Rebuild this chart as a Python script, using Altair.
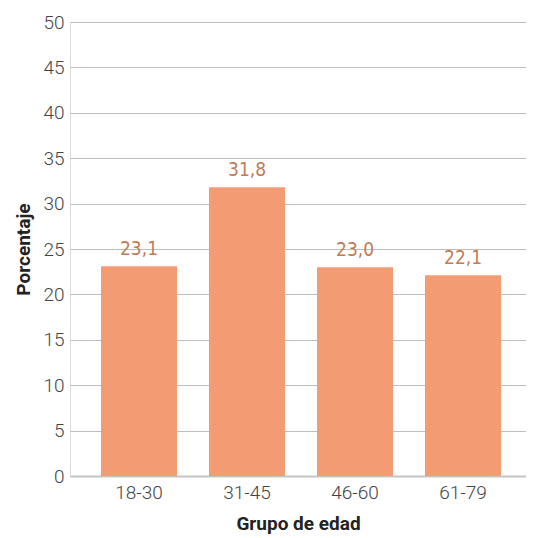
import altair as alt
import pandas as pd

grupos = ["18-30", "31-45", "46-60", "61-79"]
porcentajes = [23.1, 31.8, 23.0, 22.1]
y_ticks = [0, 5, 10, 15, 20, 25, 30, 35, 40, 45, 50]

df = pd.DataFrame({"grupo": grupos, "pct": porcentajes})
df["etiqueta"] = [f"{v:.1f}".replace(".", ",") for v in porcentajes]

base = alt.Chart(df).encode(
    x=alt.X("grupo:N", sort=grupos, title="Grupo de edad",
            scale=alt.Scale(paddingInner=0.296, paddingOuter=0.259, align=0.554),
            axis=alt.Axis(labelAngle=0, labelFont="Roboto", labelFontWeight=300,
                          labelFontSize=19, labelColor="#444444", labelPadding=7,
                          ticks=False, domain=True, domainColor="#C4C4C4", domainWidth=2,
                          titleFont="Roboto", titleFontWeight="bold", titleFontSize=19,
                          titleColor="#222222", titlePadding=12)),
)

bars = base.mark_bar(color="#F39C73").encode(
    y=alt.Y("pct:Q", title="Porcentaje", scale=alt.Scale(domain=[0, 50], nice=False),
            axis=alt.Axis(values=y_ticks, labelFont="Roboto", labelFontWeight=300,
                          labelFontSize=19, labelColor="#444444", labelPadding=6,
                          ticks=False, domain=False, gridColor="#BDBDBD", gridWidth=1.2,
                          titleFont="Roboto", titleFontWeight="bold", titleFontSize=19,
                          titleColor="#222222", titlePadding=9))
)

text = base.mark_text(baseline="bottom", dy=-7, font="DejaVu Sans Condensed",
                      fontSize=19, color="#C17B55").encode(
    y=alt.Y("pct:Q"),
    text="etiqueta:N",
)

chart = (bars + text).properties(
    width=456, height=454,
    autosize=alt.AutoSizeParams(type="none"),
    padding={"left": 62, "top": 14, "right": 0, "bottom": 63},
).configure_view(fill="#EBEBEB", stroke=None).configure(background="white")

chart.save("out.html", embed_options={"renderer": "svg", "actions": False})
